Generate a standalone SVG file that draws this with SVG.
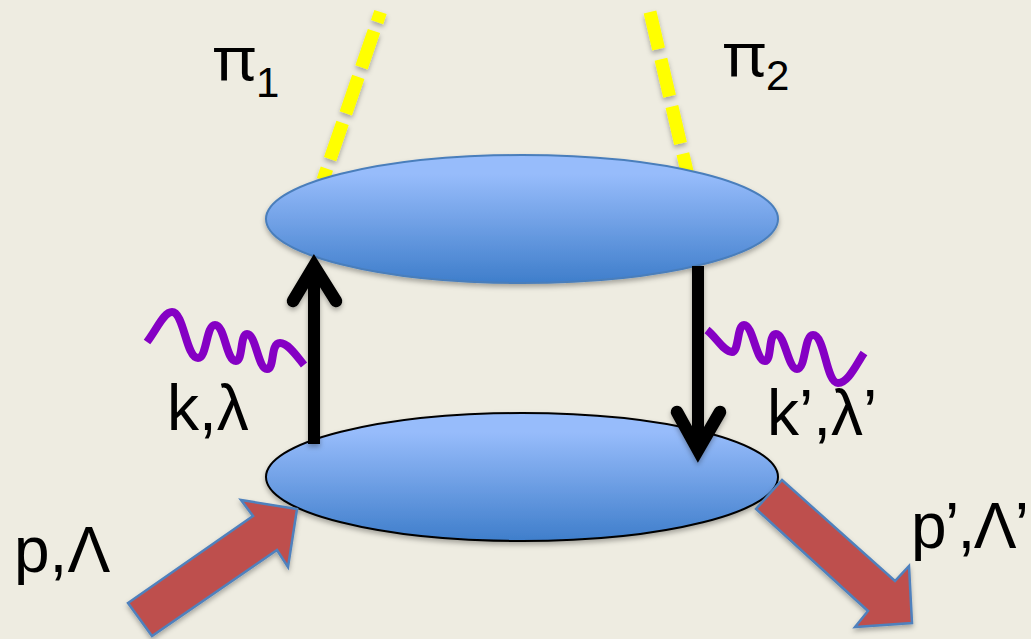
<svg xmlns="http://www.w3.org/2000/svg" width="1031" height="639" viewBox="0 0 1031 639">
<style>
text{font-family:"Liberation Sans",Arial,sans-serif;fill:#000;font-size:64px}
.sub{font-size:42px}
.pigl{font-family:"Noto Sans",sans-serif;font-size:60px}
.ell{fill:url(#g)}
.shaft{stroke:#000;stroke-width:12;fill:none}
.head{stroke:#000;stroke-width:12.5;fill:none;stroke-linecap:round;stroke-linejoin:miter}
.pi{stroke:#ff0;stroke-width:13;fill:none}
.wave{stroke:#8500c4;stroke-width:8;fill:none}
.red{fill:#be504e;stroke:#4f81bd;stroke-width:2.5}
</style>
<defs>
<linearGradient id="g" x1="0" y1="0" x2="0" y2="1"><stop offset="0.15" stop-color="#97bcfb"/><stop offset="1" stop-color="#3f7ecb"/></linearGradient>
<filter id="s" x="-10%" y="-10%" width="120%" height="125%"><feDropShadow dx="0" dy="3" stdDeviation="2.5" flood-color="#000" flood-opacity="0.3"/></filter>
</defs>
<rect width="1031" height="639" fill="#eeece1"/>
<g id="connectors">
<g filter="url(#s)">
<path class="pi" d="M380.5 12L323 180" stroke-dasharray="10.6 9.5 38.5 10 38.5 10 38.5 10 38.5"/>
<path class="pi" d="M650 12L689 180" stroke-dasharray="38 10.5"/>
</g>
</g>
<g id="node-top"><ellipse class="ell" cx="522" cy="219" rx="256" ry="64" stroke="#4a7ebb" stroke-width="2" filter="url(#s)"/></g>
<g id="node-bottom"><ellipse class="ell" cx="522" cy="477" rx="256" ry="64" stroke="#000" stroke-width="2" filter="url(#s)"/></g>
<g id="arrows" filter="url(#s)">
<path class="shaft" d="M314 444V268"/>
<path class="head" d="M293 301L314 266L336 301"/>
<path class="shaft" d="M698 266V450"/>
<path class="head" d="M677 412L698 450L720 412"/>
<path class="red" d="M128 603L152 636L277 550L288 567L297 509L241 500L253 516Z"/>
<path class="red" d="M782 480L895 581L909 566L912 623L855 627L868 611L756 509Z"/>
</g>
<g id="waves">
<path class="wave" d="M147 342C158 327 164 312 172 312C184 312 186 358 198 358C207 358 206 325 215 325C225 325 226 361 236 361C243 361 240 334 247 334C256 334 258 369 267 369C275 369 270 343 280 343C288 343 296 355 304 365"/>
<path class="wave" d="M707 330C716 337 724 352 732 352C739 352 737 325 744 325C753 325 756 361 765 361C772 361 768 334 776 334C785 334 788 369 797 369C806 369 804 335 813 335C825 335 826 383 838 383C848 383 856 365 864 353"/>
</g>
<g id="labels">
<text class="pigl" x="213" y="80" textLength="43" lengthAdjust="spacingAndGlyphs">π</text><text class="sub" x="256" y="97">1</text>
<text class="pigl" x="723" y="76" textLength="43" lengthAdjust="spacingAndGlyphs">π</text><text class="sub" x="766" y="90">2</text>
<text x="167" y="430">k,λ</text>
<text x="767" y="435">k’,λ’</text>
<text x="14" y="572">p,Λ</text>
<text x="911" y="548" textLength="118">p’,Λ’</text>
</g>
</svg>
